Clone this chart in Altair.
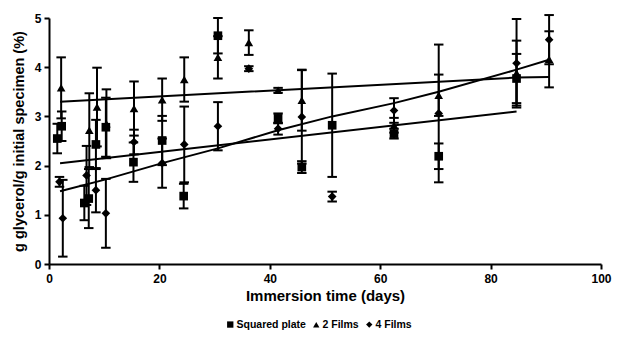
import altair as alt
import pandas as pd

series_names = ["Squared plate", "2 Films", "4 Films"]

sq_day = [1.5, 2.3, 6.4, 7.2, 8.5, 10.3, 15.3, 20.5, 24.4, 30.6, 41.5, 45.8, 51.3, 62.5, 70.6, 84.7]
sq_val = [2.55, 2.8, 1.24, 1.33, 2.43, 2.78, 2.07, 2.51, 1.38, 4.64, 2.96, 1.97, 2.82, 2.65, 2.19, 3.77]
sq_err = [0.3, 0.3, 0.35, 0.6, 0.5, 0.6, 0.4, 0.5, 0.25, 0.36, 0.1, 0.12, 1.05, 0.1, 0.26, 0.5]

tf_day = [2.2, 7.3, 8.7, 10.4, 15.4, 20.5, 24.5, 30.6, 36.2, 41.5, 45.8, 62.5, 70.6, 84.7, 90.6]
tf_val = [3.58, 2.72, 3.19, 2.85, 3.16, 3.34, 3.75, 4.2, 4.5, 3.53, 3.33, 2.82, 3.43, 3.88, 4.16]
tf_err = [0.62, 0.75, 0.8, 0.7, 0.55, 0.43, 0.45, 0.43, 0.25, 0.05, 0.62, 0.15, 0.42, 0.66, 0.57]

ff_day = [1.9, 2.5, 6.8, 8.5, 10.3, 15.4, 20.5, 24.5, 30.6, 36.2, 41.5, 45.8, 51.3, 62.5, 70.6, 84.7, 90.6]
ff_val = [1.67, 0.93, 1.8, 1.5, 1.03, 2.48, 2.05, 2.43, 2.8, 3.97, 2.75, 2.99, 1.37, 3.12, 3.06, 4.08, 4.56]
ff_err = [0.1, 0.78, 0.6, 0.45, 0.7, 0.25, 0.5, 0.77, 0.49, 0.05, 0.12, 0.95, 0.1, 0.25, 1.4, 0.9, 0.5]

# trend lines
trendA_day = [2, 84.7, 90.6]
trendA_val = [3.3, 3.79, 3.8]
trendB_day = [2, 84.7]
trendB_val = [2.05, 3.1]
trendC_day = [2, 10.3, 20.5, 30.6, 41.5, 51.3, 62.5, 70.6, 84.7, 90.6]
trendC_val = [1.48, 1.72, 2.05, 2.35, 2.72, 3.0, 3.27, 3.5, 3.95, 4.15]

rows = []
for name, d, v, e in [(series_names[0], sq_day, sq_val, sq_err),
                      (series_names[1], tf_day, tf_val, tf_err),
                      (series_names[2], ff_day, ff_val, ff_err)]:
    for a, b, c in zip(d, v, e):
        rows.append({"series": name, "day": a, "val": b, "lo": b - c, "hi": b + c})
df = pd.DataFrame(rows)

trows = []
for tid, d, v in [("A", trendA_day, trendA_val), ("B", trendB_day, trendB_val), ("C", trendC_day, trendC_val)]:
    for a, b in zip(d, v):
        trows.append({"trend": tid, "day": a, "val": b})
tdf = pd.DataFrame(trows)

FONT = "Liberation Sans"

xs = alt.Scale(domain=[0, 100], nice=False)
ys = alt.Scale(domain=[0, 5], nice=False)

xax = alt.Axis(values=[0, 20, 40, 60, 80, 100], grid=False, title="Immersion time (days)",
               labelFont=FONT, labelFontWeight="bold", labelFontSize=12, labelColor="black",
               titleFont=FONT, titleFontWeight="bold", titleFontSize=15, titleColor="black",
               domainColor="black", domainWidth=2, tickColor="black", tickWidth=2, tickSize=5,
               labelPadding=4, titlePadding=4, labelFlush=False)
yax = alt.Axis(values=[0, 1, 2, 3, 4, 5], grid=False, title="g glycerol/g initial specimen (%)",
               labelFont=FONT, labelFontWeight="bold", labelFontSize=12, labelColor="black",
               titleFont=FONT, titleFontWeight="bold", titleFontSize=14.5, titleColor="black",
               domainColor="black", domainWidth=2, tickColor="black", tickWidth=2, tickSize=5,
               labelPadding=3, titlePadding=8, labelFlush=False)

base = alt.Chart(df)

bars = base.mark_rule(color="black", strokeWidth=2).encode(
    x=alt.X("day:Q", scale=xs, axis=xax),
    y=alt.Y("lo:Q", scale=ys, axis=yax),
    y2="hi:Q",
)
cap_shape = "M-1,0L1,0"
cap_lo = base.mark_point(shape=cap_shape, size=90, color="black", strokeWidth=2, filled=False, opacity=1).encode(
    x=alt.X("day:Q", scale=xs), y=alt.Y("lo:Q", scale=ys))
cap_hi = base.mark_point(shape=cap_shape, size=90, color="black", strokeWidth=2, filled=False, opacity=1).encode(
    x=alt.X("day:Q", scale=xs), y=alt.Y("hi:Q", scale=ys))

lines = alt.Chart(tdf).mark_line(color="black", strokeWidth=2).encode(
    x=alt.X("day:Q", scale=xs), y=alt.Y("val:Q", scale=ys), detail="trend:N")

points = base.mark_point(filled=True, color="black", opacity=1, size=75).encode(
    x=alt.X("day:Q", scale=xs),
    y=alt.Y("val:Q", scale=ys),
    shape=alt.Shape("series:N",
                    scale=alt.Scale(domain=series_names, range=["square", "triangle-up", "diamond"]),
                    legend=alt.Legend(title=None, orient="none", direction="horizontal",
                                      legendX=176, legendY=301, labelFont=FONT, labelFontWeight="bold",
                                      labelFontSize=10.5, labelColor="black", symbolFillColor="black",
                                      symbolStrokeColor="black", symbolSize=40, symbolOffset=0,
                                      labelOffset=1, columnPadding=4, symbolType="square")),
)

chart = alt.layer(bars, cap_lo, cap_hi, lines, points).properties(
    width=552, height=246,
    autosize=alt.AutoSizeParams(type="none"),
    padding={"left": 41, "top": 10, "right": 14, "bottom": 70},
    background="white",
).configure_view(stroke=None)

chart.save("out.html", embed_options={"renderer": "svg", "actions": False})
